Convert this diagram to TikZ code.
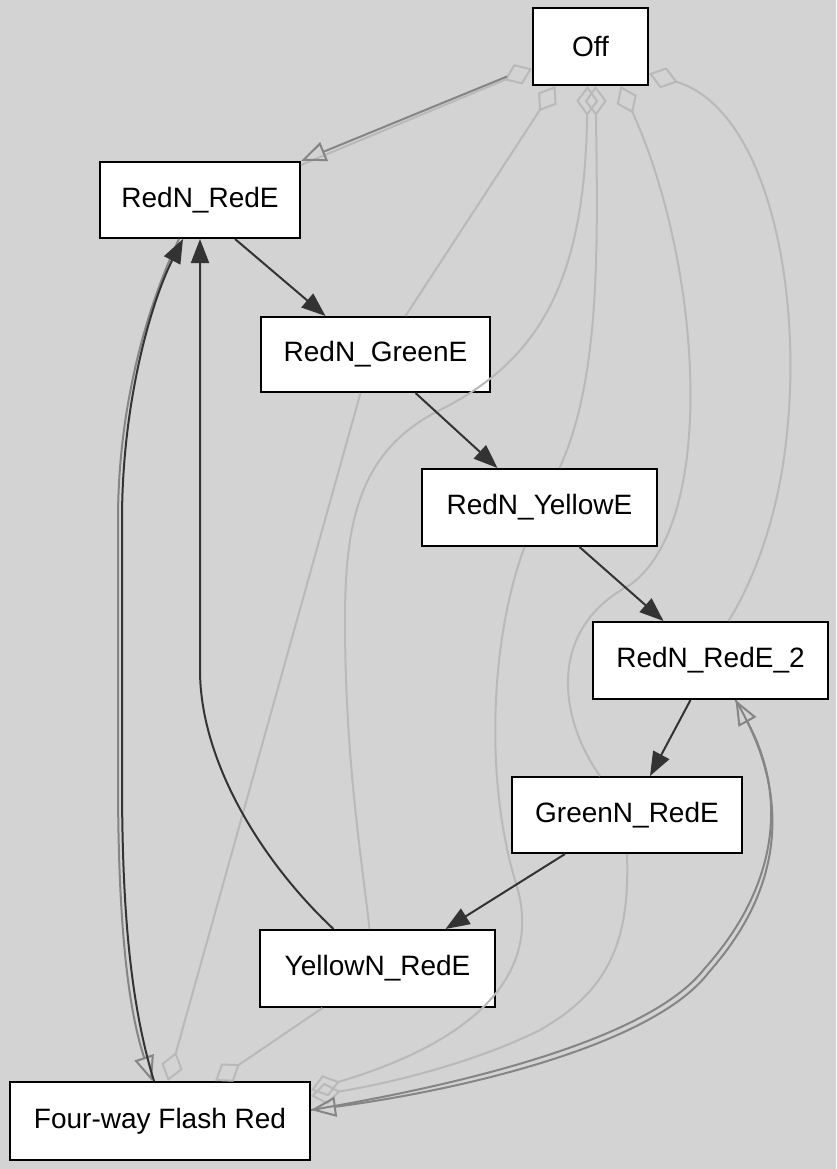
\documentclass[tikz,border=0pt]{standalone}
\usepackage{fontspec}
\setmainfont{Liberation Sans}
\usetikzlibrary{arrows.meta}
\definecolor{bg}{HTML}{D3D3D3}
\definecolor{darkedge}{HTML}{333333}
\definecolor{midedge}{HTML}{858585}
\definecolor{lightedge}{HTML}{B9B9B9}
\begin{document}
\begin{tikzpicture}[x=1pt,y=-1pt,
  state/.style={draw=black, line width=2pt, fill=white, inner sep=0pt,
    minimum height=77pt, font=\fontsize{28}{34}\selectfont},
  flow/.style={draw=darkedge, line width=2pt, -{Triangle[length=24pt,width=18pt]}},
  gen/.style={draw=midedge, line width=2pt, -{Triangle[open,length=25pt,width=20pt]}},
  agg/.style={draw=lightedge, line width=2pt},
  aggstart/.style={agg, {Diamond[open,length=30pt,width=22pt]}-},
  aggend/.style={agg, -{Diamond[open,length=30pt,width=22pt]}}
]
\fill[bg] (0,0) rectangle (836,1169);
\useasboundingbox (0,0) rectangle (836,1169);

% nodes
\node[state, minimum width=115pt] (off)  at (590.5,46.5) {Off};
\node[state, minimum width=200pt, minimum height=76pt] (rre)  at (200,200) {RedN\_RedE};
\node[state, minimum width=229pt, minimum height=75pt] (rge)  at (375.5,354.5) {RedN\_GreenE};
\node[state, minimum width=235pt] (rye)  at (539.5,507.5) {RedN\_YellowE};
\node[state, minimum width=235pt] (rre2) at (710.5,660.5) {RedN\_RedE\_2};
\node[state, minimum width=230pt, minimum height=76pt] (gre)  at (627,815) {GreenN\_RedE};
\node[state, minimum width=235pt] (yre)  at (377.5,968.5) {YellowN\_RedE};
\node[state, minimum width=300pt, minimum height=78pt] (fwfr) at (160,1121) {Four-way Flash Red};

% light aggregation lines from Off
\draw[aggstart] ([yshift=-22pt]off.west) -- ([yshift=-4pt]rre.north east);
\draw[aggstart] ([xshift=-35pt]off.south) -- ([xshift=30pt]rge.north);
\draw[aggstart] ([xshift=-3pt]off.south) .. controls (585,280) and (540,360) .. (440,410)
   .. controls (360,450) and (345,520) .. (345,620)
   .. controls (345,760) and (362,860) .. ([xshift=-8pt]yre.north);
\draw[aggstart] ([xshift=5pt]off.south) .. controls (598,250) and (600,380) .. ([xshift=20pt]rye.north);
\draw[aggstart] ([xshift=30pt]off.south) .. controls (700,260) and (720,520) .. (630,585)
   .. controls (545,630) and (560,720) .. ([xshift=-27pt]gre.north);
\draw[aggstart] ([yshift=-27pt]off.east) .. controls (770,110) and (805,300) .. (785,450)
   .. controls (775,530) and (748,590) .. ([xshift=18pt]rre2.north);

% light aggregation lines into Four-way Flash Red
\draw[aggend] ([xshift=-15pt]rge.south) -- ([xshift=8pt]fwfr.north);
\draw[aggend] ([xshift=-55pt]yre.south) -- ([xshift=55pt]fwfr.north);
\draw[aggend] ([xshift=-15pt]rye.south) .. controls (490,640) and (485,780) .. (515,880)
   .. controls (545,970) and (480,1040) .. ([yshift=31pt]fwfr.east);
\draw[aggend] (gre.south) .. controls (630,940) and (610,990) .. (540,1030)
   .. controls (470,1065) and (380,1085) .. ([yshift=25pt]fwfr.east);

% generalisation-style gray edges
\draw[gen] ([shift={(-25pt,-30pt)}]off.west) -- (rre.north east);
\draw[gen] ([xshift=-21pt]rre.south) .. controls (150,300) and (118,400) .. (118,520)
   -- (118,780) .. controls (118,900) and (125,1000) .. ([xshift=-8pt]fwfr.north);
\draw[gen] ([yshift=11pt]fwfr.east) .. controls (460,1085) and (650,1040) .. (705,968)
   .. controls (775,890) and (790,800) .. ([xshift=25pt]rre2.south);
\draw[gen] ([xshift=25pt]rre2.south) .. controls (795,800) and (780,892) .. (709,972)
   .. controls (654,1045) and (462,1090) .. ([yshift=11pt]fwfr.east);

% dark transitions
\draw[flow] ([xshift=35pt]rre.south) -- ([xshift=-50pt]rge.north);
\draw[flow] ([xshift=40pt]rge.south) -- ([xshift=-42pt]rye.north);
\draw[flow] ([xshift=40pt]rye.south) -- ([xshift=-47pt]rre2.north);
\draw[flow] ([xshift=-20pt]rre2.south) -- ([xshift=23pt]gre.north);
\draw[flow] ([xshift=-62pt]gre.south) -- ([xshift=68pt]yre.north);
\draw[flow] ([xshift=-44pt]yre.north) .. controls (260,860) and (200,760) .. (200,670)
   -- (rre.south);
\draw[flow] ([xshift=-6pt]fwfr.north) .. controls (129,1000) and (122,900) .. (122,780)
   -- (122,520) .. controls (122,400) and (152,300) .. ([xshift=-17pt]rre.south);
\end{tikzpicture}
\end{document}
